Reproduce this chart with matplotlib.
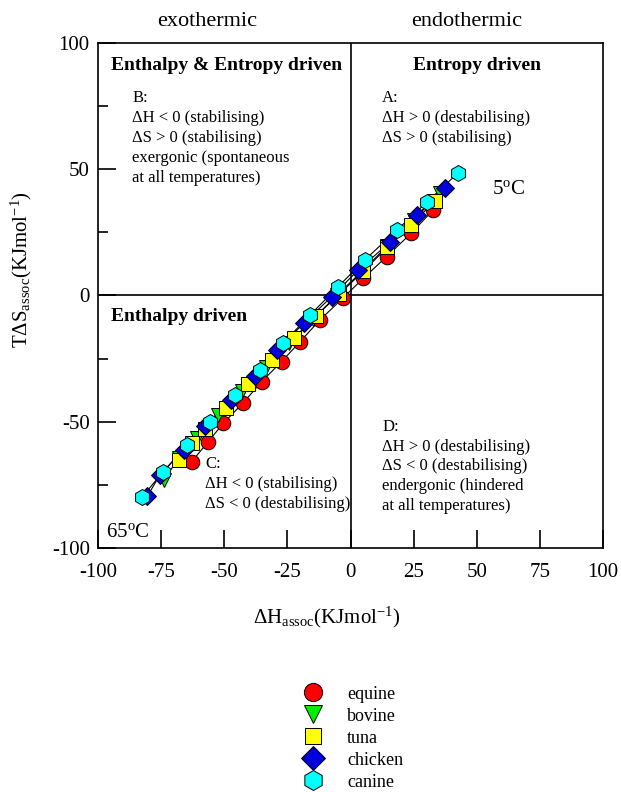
import matplotlib
matplotlib.use("Agg")
import matplotlib.pyplot as plt
from matplotlib.ticker import MultipleLocator

plt.rcParams['font.family'] = ['Liberation Serif', 'DejaVu Serif']
plt.rcParams['mathtext.fontset'] = 'custom'
plt.rcParams['mathtext.rm'] = 'Liberation Serif'
plt.rcParams['mathtext.it'] = 'Liberation Serif:italic'
plt.rcParams['mathtext.bf'] = 'Liberation Serif:bold'
plt.rcParams['axes.unicode_minus'] = False

# temperatures 5 .. 65 C, first point is 5 C (top right)
species = ['equine', 'bovine', 'tuna', 'chicken', 'canine']

equine_dH = [32.8, 24.0, 14.3, 5.1, -3.1, -12.1, -20.0, -27.3, -35.2, -42.6, -50.4, -56.4, -62.9]
equine_TdS = [33.9, 24.6, 15.4, 6.8, -1.1, -9.7, -18.3, -26.2, -34.1, -42.6, -50.6, -57.9, -65.8]

bovine_dH = [35.5, 25.0, 14.5, 4.5, -5.5, -15.0, -24.5, -33.5, -43.0, -52.5, -61.0, -68.0, -74.0]
bovine_TdS = [40.5, 30.0, 19.5, 9.5, 0.0, -9.5, -19.0, -28.5, -38.0, -47.5, -56.5, -64.5, -73.0]

tuna_dH = [33.5, 24.0, 14.5, 5.0, -4.5, -13.5, -22.5, -31.0, -40.5, -49.5, -57.5, -63.0, -68.0]
tuna_TdS = [37.5, 28.0, 19.0, 9.5, 0.5, -8.0, -17.0, -25.5, -35.0, -44.5, -53.0, -58.5, -65.0]

chicken_dH = [37.5, 26.5, 15.5, 3.0, -7.5, -18.5, -29.0, -38.0, -47.5, -57.5, -66.0, -75.5, -80.5]
chicken_TdS = [42.5, 32.0, 21.0, 10.0, -0.5, -11.0, -21.5, -32.0, -41.5, -51.5, -61.0, -71.0, -79.5]

canine_dH = [42.6, 30.3, 18.4, 5.7, -5.0, -16.0, -26.7, -35.8, -45.7, -55.6, -64.8, -74.3, -82.6]
canine_TdS = [48.5, 37.0, 25.9, 14.1, 3.4, -7.7, -18.8, -29.5, -39.4, -50.1, -59.2, -69.9, -79.8]

data = {
    'equine': (equine_dH, equine_TdS),
    'bovine': (bovine_dH, bovine_TdS),
    'tuna': (tuna_dH, tuna_TdS),
    'chicken': (chicken_dH, chicken_TdS),
    'canine': (canine_dH, canine_TdS),
}
colors = {'equine': '#ff0000', 'bovine': '#00ee00', 'tuna': '#ffff00',
          'chicken': '#0000dd', 'canine': '#00ffff'}
markers = {'equine': 'o', 'bovine': 'v', 'tuna': 's', 'chicken': 'D', 'canine': 'h'}
msizes = {'equine': 10.5, 'bovine': 10.5, 'tuna': 9.5, 'chicken': 9.5, 'canine': 11.5}

fig = plt.figure(figsize=(6.21, 7.92), dpi=100)
ax = fig.add_axes([0.158, 0.308, 0.813, 0.638])

for sp in species:
    x, y = data[sp]
    ax.plot(x, y, color='black', lw=0.8, zorder=2)
for sp in species:
    x, y = data[sp]
    ax.plot(x, y, ls='none', marker=markers[sp], ms=msizes[sp],
            mfc=colors[sp], mec='black', mew=0.7, zorder=3, label=sp)

ax.axhline(0, color='black', lw=1.2, zorder=1)
ax.axvline(0, color='black', lw=1.2, zorder=1)

ax.set_xlim(-100, 100)
ax.set_ylim(-100, 100)
ax.xaxis.set_major_locator(MultipleLocator(25))
ax.yaxis.set_major_locator(MultipleLocator(50))
ax.yaxis.set_minor_locator(MultipleLocator(25))
ax.tick_params(axis='x', which='major', direction='in', length=13, width=1.2,
               labelsize=15, pad=11)
ax.tick_params(axis='y', which='major', direction='in', length=13, width=1.2,
               labelsize=15, pad=6)
ax.tick_params(axis='y', which='minor', direction='in', length=7, width=1.2)
for s in ax.spines.values():
    s.set_linewidth(1.2)

# quadrant labels
ax.text(-56.8, 104.5, 'exothermic', ha='center', va='bottom', fontsize=16)
ax.text(46, 104.5, 'endothermic', ha='center', va='bottom', fontsize=16)
ax.text(-49, 91, 'Enthalpy & Entropy driven', ha='center', va='center',
        fontsize=14, fontweight='bold')
ax.text(50, 91, 'Entropy driven', ha='center', va='center',
        fontsize=14, fontweight='bold')
ax.text(-95, -8.5, 'Enthalpy driven', ha='left', va='center',
        fontsize=14, fontweight='bold')

ax.text(-86.5, 81.5, 'B:\n\u0394H < 0 (stabilising)\n\u0394S > 0 (stabilising)\n'
        'exergonic (spontaneous\nat all temperatures)',
        ha='left', va='top', fontsize=12, linespacing=1.35)
ax.text(12.5, 81.5, 'A:\n\u0394H > 0 (destabilising)\n\u0394S > 0 (stabilising)',
        ha='left', va='top', fontsize=12, linespacing=1.35)
ax.text(-57.6, -63.5, 'C:\n\u0394H < 0 (stabilising)\n\u0394S < 0 (destabilising)',
        ha='left', va='top', fontsize=12, linespacing=1.35)
ax.text(12.5, -49, 'D:\n\u0394H > 0 (destabilising)\n\u0394S < 0 (destabilising)\n'
        'endergonic (hindered\nat all temperatures)',
        ha='left', va='top', fontsize=12, linespacing=1.3)

ax.text(56, 42, '5$^{\\mathrm{o}}$C', ha='left', va='center', fontsize=15)
ax.text(-97, -94, '65$^{\\mathrm{o}}$C', ha='left', va='center', fontsize=15)

fig.text(0.527, 0.221, '\u0394H$_{\\mathrm{assoc}}$(KJmol$^{\\mathrm{-1}}$)',
         ha='center', va='center', fontsize=15)
fig.text(0.035, 0.66, 'T\u0394S$_{\\mathrm{assoc}}$(KJmol$^{\\mathrm{-1}}$)',
         ha='center', va='center', fontsize=15, rotation=90)

fig.legend(loc='center', bbox_to_anchor=(0.562, 0.068), frameon=False,
           fontsize=13, markerscale=1.25, handletextpad=0.9,
           labelspacing=0.28, borderpad=0.2)

fig.savefig('out.png', dpi=100)
